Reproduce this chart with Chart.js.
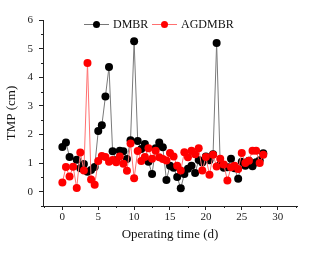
<!DOCTYPE html>
<html>
<head>
<meta charset="utf-8">
<script src="https://cdn.jsdelivr.net/npm/chart.js@4/dist/chart.umd.min.js"></script>
<style>
  html, body { margin: 0; padding: 0; background: #fff; }
  #wrap { width: 322px; height: 253px; }
</style>
</head>
<body>
<div id="wrap"><canvas id="chart" width="322" height="253"></canvas></div>
<script>
// data
const dmbrDays = [0, 0.5, 1, 2, 2.5, 3, 3.5, 4, 4.5, 5, 5.5, 6, 6.5, 7, 7.5, 8, 8.5, 9, 9.5, 10,
  10.5, 11, 11.5, 12, 12.5, 13, 13.5, 14, 14.5, 15, 15.5, 16, 16.5, 17, 17.5, 18, 18.5, 19, 19.5, 20,
  20.5, 21, 21.5, 22, 22.5, 23, 23.5, 24, 24.5, 25, 25.5, 26, 26.5, 27, 27.5, 28];
const dmbrTmp = [1.56, 1.72, 1.21, 1.12, 0.82, 0.97, 0.70, 0.76, 0.86, 2.12, 2.32, 3.33, 4.36, 1.41, 1.10, 1.43, 1.41, 1.14, 1.80, 5.26,
  1.77, 1.49, 1.67, 1.05, 0.62, 1.52, 1.72, 1.55, 0.41, 0.91, 0.84, 0.51, 0.12, 0.62, 0.80, 0.91, 0.65, 1.11, 1.02, 1.23,
  1.10, 1.31, 5.20, 0.95, 0.84, 0.85, 1.15, 0.82, 0.45, 1.05, 0.91, 1.08, 0.89, 1.03, 1.10, 1.34];

const agdmbrDays = [0, 0.5, 1, 1.5, 2, 2.5, 3, 3.5, 4, 4.5, 5, 5.5, 6, 6.5, 7, 7.5, 8, 8.5, 9, 9.5, 10,
  10.5, 11, 11.5, 12, 12.5, 13, 13.5, 14, 14.5, 15, 15.5, 16, 16.5, 17, 17.5, 18, 18.5, 19, 19.5, 20,
  20.5, 21, 21.5, 22, 22.5, 23, 23.5, 24, 24.5, 25, 25.5, 26, 26.5, 27, 27.5, 28];
const agdmbrTmp = [0.32, 0.86, 0.53, 0.87, 0.13, 1.37, 0.74, 4.50, 0.43, 0.24, 1.07, 1.25, 1.21, 1.05, 1.11, 1.03, 1.23, 0.98, 0.73, 1.68, 0.47,
  1.42, 1.07, 1.21, 1.52, 1.15, 1.43, 1.20, 1.14, 1.09, 1.35, 1.23, 0.91, 0.74, 1.38, 1.20, 1.43, 1.31, 1.52, 0.74, 1.21,
  0.59, 1.29, 0.88, 1.15, 0.95, 0.39, 0.85, 0.91, 0.79, 1.35, 1.00, 1.08, 1.43, 1.43, 1.00, 1.29];

const xTicks = [0, 5, 10, 15, 20, 25, 30];
const yTicks = [0, 1, 2, 3, 4, 5, 6];
const seriesNames = ['DMBR', 'AGDMBR'];

const serif = "'Liberation Serif', 'Times New Roman', serif";

function pts(xs, ys) {
  return xs.map((x, i) => ({ x: x, y: ys[i] }));
}

// minor ticks halfway between major ones + legend drawn by hand
const extras = {
  id: 'extras',
  afterDraw(chart) {
    const ctx = chart.ctx;
    const xs = chart.scales.x, ys = chart.scales.y;
    const area = chart.chartArea;
    ctx.save();
    ctx.strokeStyle = '#222';
    ctx.lineWidth = 1;
    for (let v = -2.5; v <= 32.5; v += 5) {
      const px = Math.round(xs.getPixelForValue(v)) + 0.5;
      ctx.beginPath();
      ctx.moveTo(px, area.bottom);
      ctx.lineTo(px, area.bottom + 2);
      ctx.stroke();
    }
    for (let v = -0.5; v <= 5.5; v += 1) {
      const py = Math.round(ys.getPixelForValue(v)) + 0.5;
      ctx.beginPath();
      ctx.moveTo(area.left, py);
      ctx.lineTo(area.left - 2, py);
      ctx.stroke();
    }

    // legend
    const items = [
      { name: seriesNames[0], line: '#777', dot: '#000', x: 84 },
      { name: seriesNames[1], line: '#ff7070', dot: '#ff0000', x: 152 }
    ];
    const ly = 24;
    ctx.font = '12px ' + serif;
    ctx.textBaseline = 'middle';
    items.forEach(it => {
      ctx.strokeStyle = it.line;
      ctx.beginPath();
      ctx.moveTo(it.x, ly + 0.5);
      ctx.lineTo(it.x + 25, ly + 0.5);
      ctx.stroke();
      ctx.fillStyle = it.dot;
      ctx.beginPath();
      ctx.arc(it.x + 12.5, ly + 0.5, 3.5, 0, Math.PI * 2);
      ctx.fill();
      ctx.fillStyle = '#111';
      ctx.fillText(it.name, it.x + 29, ly + 1);
    });
    ctx.restore();
  }
};

new Chart(document.getElementById('chart'), {
  type: 'scatter',
  data: {
    datasets: [
      {
        label: seriesNames[0],
        data: pts(dmbrDays, dmbrTmp),
        showLine: true,
        borderColor: '#7a7a7a',
        borderWidth: 1,
        backgroundColor: '#000',
        pointBackgroundColor: '#000',
        pointBorderWidth: 0,
        pointRadius: 4,
        order: 2
      },
      {
        label: seriesNames[1],
        data: pts(agdmbrDays, agdmbrTmp),
        showLine: true,
        borderColor: '#ff7070',
        borderWidth: 1,
        backgroundColor: '#ff0000',
        pointBackgroundColor: '#ff0000',
        pointBorderWidth: 0,
        pointRadius: 4,
        order: 1
      }
    ]
  },
  options: {
    responsive: false,
    animation: false,
    devicePixelRatio: 1,
    layout: { padding: { top: 20, right: 25, left: 0, bottom: 0 } },
    plugins: {
      legend: { display: false },
      tooltip: { enabled: false }
    },
    scales: {
      x: {
        type: 'linear',
        min: -2.7,
        max: 32.7,
        afterBuildTicks: s => { s.ticks = xTicks.map(v => ({ value: v })); },
        afterFit: s => { s.height = 47; },
        border: { display: true, color: '#222', width: 1 },
        grid: { display: true, drawOnChartArea: false, drawTicks: true, tickLength: 4, color: '#222' },
        ticks: { color: '#222', padding: 1, font: { family: serif, size: 11 }, maxRotation: 0 },
        title: { display: true, text: 'Operating time (d)', color: '#111', padding: { top: 0, bottom: 11 }, font: { family: serif, size: 13 } }
      },
      y: {
        type: 'linear',
        min: -0.5,
        max: 6,
        afterBuildTicks: s => { s.ticks = yTicks.map(v => ({ value: v })); },
        afterFit: s => { s.width = 43; },
        border: { display: true, color: '#222', width: 1 },
        grid: { display: true, drawOnChartArea: false, drawTicks: true, tickLength: 4, color: '#222' },
        ticks: { color: '#222', padding: 6, font: { family: serif, size: 11 } },
        title: { display: true, text: 'TMP (cm)', color: '#111', padding: { bottom: 2 }, font: { family: serif, size: 13 } }
      }
    }
  },
  plugins: [extras]
});
</script>
</body>
</html>
